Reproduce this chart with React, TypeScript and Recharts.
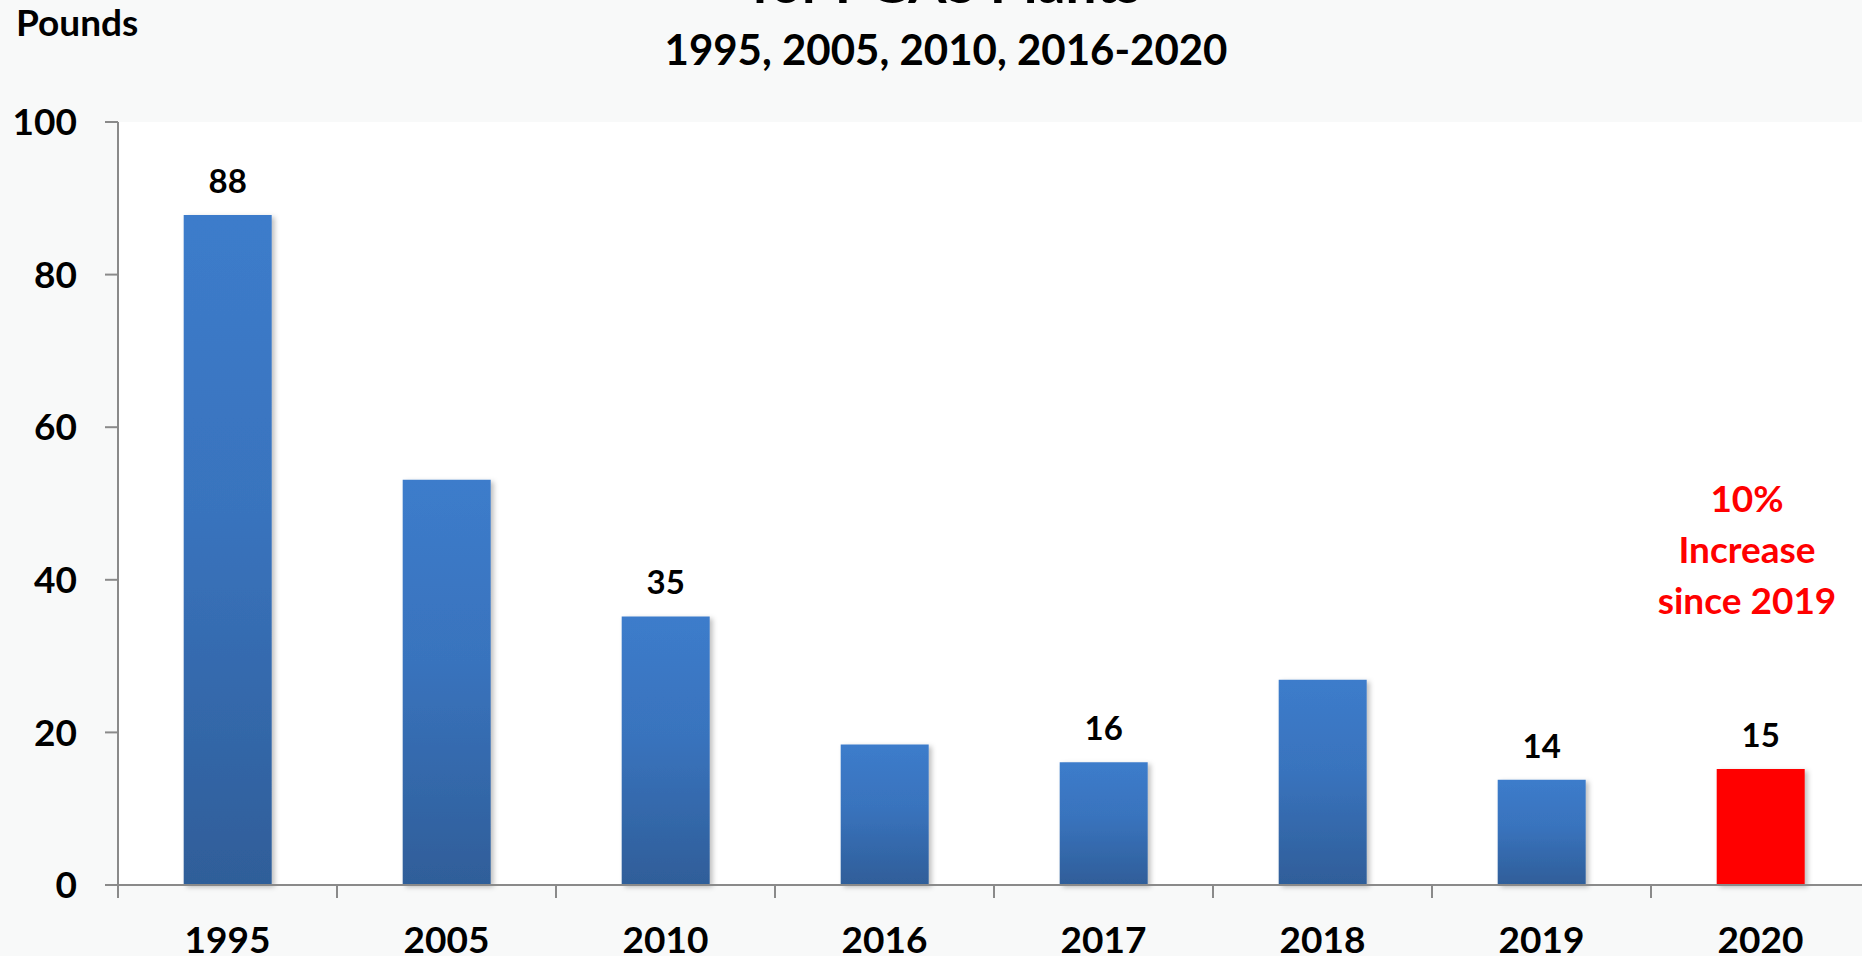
import { BarChart, Bar, XAxis, YAxis, CartesianGrid, Cell, LabelList } from "recharts";

const years = ["1995", "2005", "2010", "2016", "2017", "2018", "2019", "2020"];
const pounds = [87.8, 53.1, 35.2, 18.4, 16.1, 26.9, 13.8, 15.2];
const valueLabels = ["88", "", "35", "", "16", "", "14", "15"];
const yTicks = [0, 20, 40, 60, 80, 100];
const noteLines = ["10%", "Increase", "since 2019"];
const highlightYear = "2020";

const data = years.map((year, i) => ({ year, pounds: pounds[i], label: valueLabels[i] }));

const FONT = "Lato, 'Open Sans', sans-serif";
const AXIS = "#8a8a8a";
const BG = "#f8f9f9";
const CHART_W = 1880;
const CHART_H = 1000;
const MARGIN = { top: 122, right: 10, bottom: 55, left: 0 };
const Y_W = 118;
const PLOT_W = CHART_W - MARGIN.left - MARGIN.right - Y_W;
const X_TICK = 13;
const X_GAP = 29;

function XTick(props: any) {
  const { x, y, payload } = props;
  const half = PLOT_W / years.length / 2;
  const axisY = y - X_TICK - X_GAP;
  return (
    <g>
      <line x1={x - half} x2={x - half} y1={axisY} y2={axisY + X_TICK} stroke={AXIS} strokeWidth={2} />
      <text x={x} y={y} dy="0.71em" textAnchor="middle" fill="#000" fontSize={37} fontWeight={700} fontFamily={FONT}>
        {payload.value}
      </text>
    </g>
  );
}

function ValueLabel(props: any) {
  const { x, y, width, index } = props;
  const text = valueLabels[index];
  if (!text) return null;
  return (
    <text x={x + width / 2} y={y - 22} textAnchor="middle" fill="#000" fontSize={33} fontWeight={700} fontFamily={FONT}>
      {text}
    </text>
  );
}

export default function App() {
  return (
    <div style={{ position: "fixed", left: 0, top: 0, width: 1862, height: 956, overflow: "hidden", background: BG }}>
      <BarChart width={CHART_W} height={CHART_H} data={data} margin={MARGIN} barCategoryGap="30%">
        <defs>
          <linearGradient id="barBlue" x1="0" y1="0" x2="0" y2="1">
            <stop offset="0%" stopColor="#3c7ccb" />
            <stop offset="45%" stopColor="#3973bd" />
            <stop offset="100%" stopColor="#2f5e99" />
          </linearGradient>
          <filter id="barShadow" x="-10%" y="-5%" width="130%" height="115%">
            <feDropShadow dx={3} dy={2} stdDeviation={2.5} floodColor="#000" floodOpacity={0.25} />
          </filter>
        </defs>
        <CartesianGrid horizontal={false} vertical={false} fill="#ffffff" />
        <XAxis
          dataKey="year"
          height={60}
          interval={0}
          tickSize={X_TICK}
          tickMargin={X_GAP}
          tickLine={false}
          axisLine={{ stroke: AXIS, strokeWidth: 2 }}
          tick={<XTick />}
        />
        <YAxis
          width={Y_W}
          domain={[0, 100]}
          ticks={yTicks}
          interval={0}
          tickSize={13}
          tickMargin={28}
          axisLine={{ stroke: AXIS, strokeWidth: 2 }}
          tickLine={{ stroke: AXIS, strokeWidth: 2 }}
          tick={{ fill: "#000", fontSize: 37, fontWeight: 700, fontFamily: FONT }}
        />
        <Bar dataKey="pounds" isAnimationActive={false} filter="url(#barShadow)">
          {data.map((d) => (
            <Cell key={d.year} fill={d.year === highlightYear ? "#ff0000" : "url(#barBlue)"} />
          ))}
          <LabelList dataKey="label" content={<ValueLabel />} />
        </Bar>
      </BarChart>
      <svg width={1862} height={956} style={{ position: "absolute", left: 0, top: 0, pointerEvents: "none" }}>
        <g fontFamily={FONT} fontWeight={700}>
          <text x={946} y={3} textAnchor="middle" fontSize={55} fill="#000">for PGAS Plants</text>
          <text x={946} y={65} textAnchor="middle" fontSize={42} fill="#000">1995, 2005, 2010, 2016-2020</text>
          <text x={16} y={36} fontSize={37} fill="#000">Pounds</text>
          {noteLines.map((line, i) => (
            <text key={line} x={1747} y={512 + i * 51} textAnchor="middle" fontSize={37} fill="#ff0000">
              {line}
            </text>
          ))}
        </g>
      </svg>
    </div>
  );
}
